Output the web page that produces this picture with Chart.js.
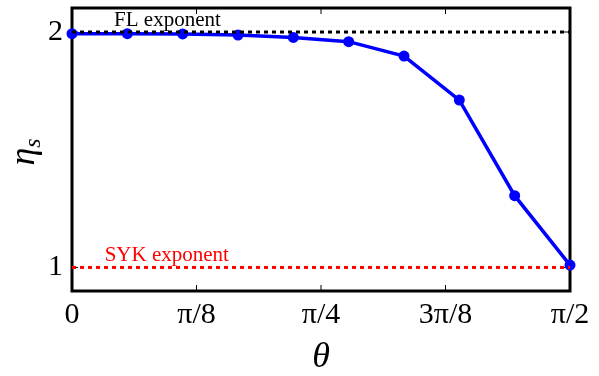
<!DOCTYPE html>
<html>
<head>
<meta charset="utf-8">
<script src="https://cdn.jsdelivr.net/npm/chart.js@4/dist/chart.umd.min.js"></script>
<style>
html, body { margin: 0; padding: 0; background: #fff; }
#wrap { width: 599px; height: 376px; }
</style>
</head>
<body>
<div id="wrap"><canvas id="grafEta" width="599" height="376"></canvas></div>
<script>
// theta in degrees, eta_s measured at each angle
var thetaDeg = [0, 10, 20, 30, 40, 50, 60, 70, 80, 90];
var etaS = [1.993, 1.993, 1.992, 1.987, 1.977, 1.959, 1.898, 1.711, 1.305, 1.01];

// reference exponents
var flLevel = 2;
var sykLevel = 1;

var xTicks = [0, 22.5, 45, 67.5, 90];
var xTickLabels = ['0', 'π/8', 'π/4', '3π/8', 'π/2'];
var yTicks = [1, 2];
var yTickLabels = ['1', '2'];

var serif = "'Liberation Serif', 'DejaVu Serif', serif";

function flat(level){
    return [{x: thetaDeg[0], y: level}, {x: thetaDeg[thetaDeg.length - 1], y: level}];
}

// frame, inward ticks, labels on the lines, axis titles
var kerangka = {
    id: 'kerangka',
    beforeDatasetsDraw: function(chart){
        var ctx = chart.ctx, a = chart.chartArea;
        var sx = chart.scales.x, sy = chart.scales.y;
        ctx.save();
        ctx.strokeStyle = '#000';
        ctx.lineWidth = 1;
        ctx.beginPath();
        xTicks.forEach(function(v){
            var px = sx.getPixelForValue(v);
            ctx.moveTo(px, a.bottom); ctx.lineTo(px, a.bottom - 6);
            ctx.moveTo(px, a.top); ctx.lineTo(px, a.top + 6);
        });
        yTicks.forEach(function(v){
            var py = sy.getPixelForValue(v);
            ctx.moveTo(a.left, py); ctx.lineTo(a.left + 6, py);
            ctx.moveTo(a.right, py); ctx.lineTo(a.right - 6, py);
        });
        ctx.stroke();
        ctx.lineWidth = 3;
        ctx.strokeRect(a.left, a.top, a.right - a.left, a.bottom - a.top);

        ctx.font = '21px ' + serif;
        ctx.textBaseline = 'alphabetic';
        ctx.textAlign = 'left';
        ctx.fillStyle = '#000';
        ctx.fillText('FL exponent', sx.getPixelForValue(7.6), sy.getPixelForValue(2.026));
        ctx.fillStyle = '#ff0000';
        ctx.fillText('SYK exponent', sx.getPixelForValue(5.9), sy.getPixelForValue(1.026));

        // axis titles
        ctx.fillStyle = '#000';
        ctx.textAlign = 'center';
        ctx.textBaseline = 'middle';
        ctx.font = 'italic 36px ' + serif;
        ctx.fillText('θ', (a.left + a.right) / 2, 358);

        ctx.translate(26, (a.top + a.bottom) / 2);
        ctx.rotate(-Math.PI / 2);
        ctx.font = 'italic 36px ' + serif;
        ctx.textAlign = 'left';
        ctx.textBaseline = 'alphabetic';
        var w = ctx.measureText('η').width;
        ctx.fillText('η', -16, 8);
        ctx.font = 'italic 24px ' + serif;
        ctx.fillText('s', -16 + w, 14);
        ctx.restore();
    }
};

var ctx = document.getElementById('grafEta');
var grafik = new Chart(ctx, {
    type: 'line',
    data: {
        datasets: [{
            data: flat(flLevel),
            borderColor: '#000',
            borderWidth: 3,
            borderDash: [4, 4],
            pointRadius: 0,
            clip: false
        }, {
            data: flat(sykLevel),
            borderColor: '#ff0000',
            borderWidth: 3,
            borderDash: [4, 4],
            pointRadius: 0,
            clip: false
        }, {
            data: thetaDeg.map(function(t, i){ return {x: t, y: etaS[i]}; }),
            borderColor: '#0000ff',
            backgroundColor: '#0000ff',
            borderWidth: 3.5,
            pointRadius: 5.5,
            pointBorderWidth: 0,
            tension: 0,
            clip: false
        }]
    },
    options: {
        responsive: false,
        devicePixelRatio: 1,
        animation: false,
        layout: { padding: { left: 0, top: 8, right: 29, bottom: 0 } },
        plugins: { legend: { display: false }, tooltip: { enabled: false } },
        scales: {
            x: {
                type: 'linear',
                min: 0,
                max: 90,
                grid: { display: false, drawTicks: false },
                border: { display: false },
                afterBuildTicks: function(s){ s.ticks = xTicks.map(function(v){ return {value: v}; }); },
                afterFit: function(s){ s.height = 85; s.paddingLeft = 0; s.paddingRight = 0; },
                ticks: {
                    autoSkip: false,
                    maxRotation: 0,
                    padding: 6,
                    color: '#000',
                    font: { family: serif, size: 30 },
                    callback: function(v){ return xTickLabels[xTicks.indexOf(v)]; }
                }
            },
            y: {
                min: 0.9,
                max: 2.102,
                grid: { display: false, drawTicks: false },
                border: { display: false },
                afterBuildTicks: function(s){ s.ticks = yTicks.map(function(v){ return {value: v}; }); },
                afterFit: function(s){ s.width = 72; s.paddingTop = 0; s.paddingBottom = 0; },
                ticks: {
                    padding: 9,
                    color: '#000',
                    font: { family: serif, size: 30 },
                    callback: function(v){ return yTickLabels[yTicks.indexOf(v)]; }
                }
            }
        }
    },
    plugins: [kerangka]
});
</script>
</body>
</html>
